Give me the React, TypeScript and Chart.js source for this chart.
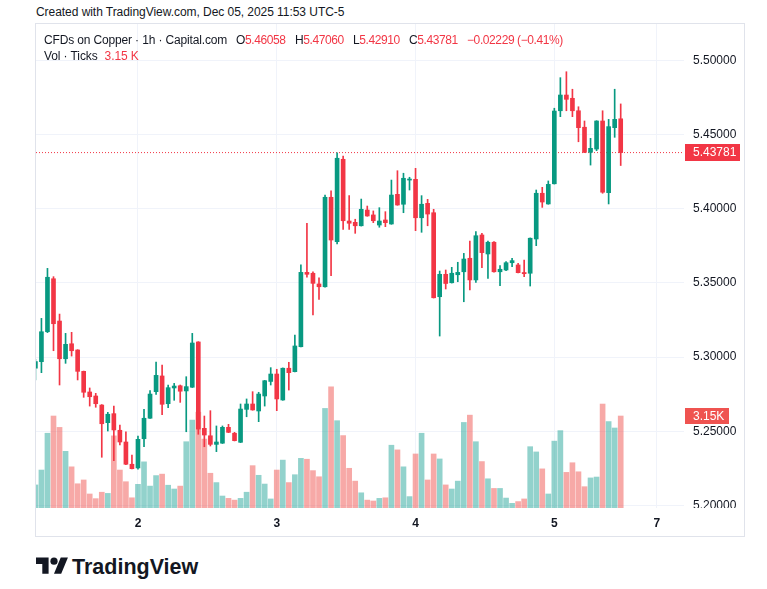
import React, { useEffect, useRef } from "react";
import { Chart, registerables } from "chart.js";

Chart.register(...registerables);

// Bar index of the first visible candle, relative to the Dec 2 00:00 bar (1h bars)
const FIRST_BAR = -17;

const OPEN = [
  5.2925, 5.2969, 5.3171, 5.3528, 5.3243, 5.2989, 5.309, 5.3048, 5.2904, 5.2765,
  5.2738, 5.2677, 5.2558, 5.2619, 5.2507, 5.2428, 5.2278, 5.2253, 5.245, 5.2588,
  5.2767, 5.2873, 5.2686, 5.2792, 5.2807, 5.2772, 5.2797, 5.3102, 5.252, 5.247,
  5.2412, 5.242, 5.2527, 5.2487, 5.2426, 5.2648, 5.2684, 5.2637, 5.2738, 5.2836,
  5.2886, 5.2711, 5.2925, 5.2902, 5.307, 5.3571, 5.3565, 5.3493, 5.3474, 5.4077,
  5.3778, 5.4333, 5.3917, 5.3908, 5.3885, 5.3991, 5.3958, 5.389, 5.3924, 5.3897,
  5.4097, 5.403, 5.4193, 5.4198, 5.3939, 5.4036, 5.3973, 5.3407, 5.3558, 5.3501,
  5.3555, 5.3575, 5.3666, 5.352, 5.3823, 5.3695, 5.3774, 5.3575, 5.3587, 5.3636,
  5.3621, 5.357, 5.3565, 5.3796, 5.4104, 5.4032, 5.4168, 5.466, 5.4766, 5.4744,
  5.466, 5.4549, 5.438, 5.4402, 5.4591, 5.4108, 5.4546, 5.46058,
];
const HIGH = [
  5.2985, 5.3261, 5.3598, 5.3542, 5.329, 5.316, 5.3167, 5.305, 5.2906, 5.2792,
  5.2756, 5.268, 5.2628, 5.267, 5.2542, 5.2497, 5.234, 5.2468, 5.2648, 5.2774,
  5.2967, 5.2947, 5.2812, 5.2823, 5.2812, 5.2868, 5.316, 5.3104, 5.2603, 5.2639,
  5.2536, 5.2536, 5.2547, 5.2493, 5.2684, 5.2718, 5.2767, 5.2763, 5.2843, 5.2929,
  5.2918, 5.2927, 5.2965, 5.3149, 5.3621, 5.3902, 5.3575, 5.3535, 5.4092, 5.4121,
  5.4377, 5.4355, 5.4088, 5.3929, 5.4065, 5.4018, 5.3985, 5.4007, 5.398, 5.4193,
  5.4256, 5.4239, 5.4212, 5.4272, 5.4088, 5.4063, 5.3996, 5.358, 5.3587, 5.3605,
  5.3639, 5.3699, 5.3782, 5.3845, 5.3834, 5.3782, 5.3778, 5.3616, 5.3643, 5.3666,
  5.3632, 5.3654, 5.3803, 5.4126, 5.4144, 5.4187, 5.4677, 5.4883, 5.4923, 5.4805,
  5.4687, 5.4591, 5.4474, 5.4593, 5.466, 5.4602, 5.4805, 5.4706,
];
const LOW = [
  5.2846, 5.2895, 5.3165, 5.3043, 5.2812, 5.2958, 5.3007, 5.2846, 5.2729, 5.267,
  5.2662, 5.2325, 5.2502, 5.2302, 5.2408, 5.2276, 5.2246, 5.2245, 5.2396, 5.2586,
  5.2749, 5.2612, 5.2659, 5.2709, 5.2695, 5.2497, 5.2795, 5.248, 5.2396, 5.2401,
  5.2363, 5.2418, 5.2491, 5.2435, 5.2424, 5.2598, 5.2642, 5.2565, 5.267, 5.2812,
  5.2639, 5.2709, 5.2778, 5.29, 5.3068, 5.3538, 5.3284, 5.3389, 5.3472, 5.3549,
  5.3762, 5.3861, 5.3861, 5.3834, 5.3883, 5.3949, 5.3906, 5.3875, 5.3879, 5.3895,
  5.4023, 5.3973, 5.4126, 5.3852, 5.3841, 5.3885, 5.3398, 5.3142, 5.3459, 5.3499,
  5.3508, 5.3373, 5.3452, 5.3504, 5.3602, 5.3531, 5.3573, 5.3481, 5.3582, 5.3609,
  5.3567, 5.3542, 5.3479, 5.3751, 5.4009, 5.403, 5.4166, 5.462, 5.466, 5.462,
  5.4451, 5.4378, 5.4294, 5.4391, 5.4104, 5.4032, 5.4481, 5.4291,
];
const CLOSE = [
  5.2969, 5.3171, 5.3538, 5.3225, 5.2989, 5.3086, 5.3043, 5.2904, 5.2763, 5.2733,
  5.2686, 5.2551, 5.2615, 5.2509, 5.2428, 5.2278, 5.2248, 5.2446, 5.2588, 5.2751,
  5.2877, 5.2682, 5.2794, 5.2805, 5.277, 5.2801, 5.3095, 5.2515, 5.2475, 5.2412,
  5.2428, 5.2527, 5.2493, 5.2437, 5.265, 5.2684, 5.2644, 5.2751, 5.2841, 5.2886,
  5.2718, 5.2925, 5.2895, 5.3075, 5.3571, 5.3558, 5.3497, 5.3474, 5.4077, 5.3789,
  5.434, 5.3919, 5.3902, 5.3885, 5.3996, 5.3951, 5.3919, 5.3917, 5.3906, 5.4092,
  5.4025, 5.4205, 5.42, 5.3939, 5.403, 5.3964, 5.34, 5.3558, 5.3496, 5.3565,
  5.3571, 5.3661, 5.352, 5.3818, 5.3704, 5.3774, 5.3575, 5.3592, 5.3636, 5.365,
  5.3569, 5.3562, 5.3801, 5.4104, 5.4045, 5.4164, 5.4658, 5.4766, 5.4737, 5.466,
  5.4546, 5.438, 5.4407, 5.4591, 5.4111, 5.4553, 5.4602, 5.43781,
];
// Volume in ticks
const VOLUME = [
  790, 1300, 2560, 3150, 2760, 1940, 1410, 830, 960, 480,
  320, 540, 500, 2470, 1300, 900, 350, 810, 1580, 750,
  1110, 1160, 780, 650, 750, 2270, 3010, 3280, 2360, 1190,
  870, 410, 330, 270, 330, 540, 1450, 1120, 820, 310,
  1300, 1640, 870, 1140, 1700, 1670, 1280, 1070, 3410, 4150,
  2990, 2480, 1360, 920, 520, 270, 240, 330, 350, 2150,
  1990, 1410, 390, 1850, 2560, 960, 1850, 1680, 790, 650,
  920, 2930, 3180, 2270, 1590, 1000, 670, 670, 340, 160,
  220, 310, 2100, 1920, 1340, 480, 2290, 2650, 1220, 1550,
  1240, 730, 1030, 1060, 3560, 2960, 2740, 3150,
];

const TIME_TICKS = [0, 23, 46, 69, 86];
const TIME_LABELS = ["2", "3", "4", "5", "7"];
const PRICE_TICKS = [5.2, 5.25, 5.3, 5.35, 5.4, 5.45, 5.5];
const LAST_PRICE = 5.43781;
const LAST_VOLUME_LABEL = "3.15K";
const LAST_VOLUME = 3150;

// visible ranges
const X_MIN = -16.9;
const X_MAX = 90.49;
const Y_MIN = 5.19832;
const Y_MAX = 5.52446;
const VOL_MAX = 16575;

const UP = "#089981";
const DOWN = "#f23645";
const VOL_UP = "rgba(38,166,154,0.5)";
const VOL_DOWN = "rgba(239,83,80,0.5)";
const TEXT = "#131722";
const GRID = "#f0f3fa";
const FONT = '"Liberation Sans", Arial, sans-serif';

const axisBoxes = {
  id: "axisBoxes",
  afterDraw(chart: any) {
    const { ctx, chartArea, scales } = chart;
    ctx.save();
    ctx.fillStyle = "#ffffff";
    ctx.fillRect(chartArea.right + 1, chartArea.bottom, chart.width - chartArea.right, chart.height - chartArea.bottom);
    ctx.font = `12px ${FONT}`;
    ctx.textBaseline = "middle";
    ctx.textAlign = "left";
    const py = scales.y.getPixelForValue(LAST_PRICE);
    ctx.fillStyle = DOWN;
    ctx.fillRect(chartArea.right + 1, Math.round(py - 8.5), 55, 17);
    ctx.fillStyle = "#ffffff";
    ctx.fillText(LAST_PRICE.toFixed(5), chartArea.right + 9, py + 0.5);
    const vy = scales.vol.getPixelForValue(LAST_VOLUME);
    ctx.fillStyle = "#ef5350";
    ctx.fillRect(chartArea.right + 1, Math.round(vy - 8), 44, 16);
    ctx.fillStyle = "#ffffff";
    ctx.fillText(LAST_VOLUME_LABEL, chartArea.right + 9, vy + 0.5);
    ctx.restore();
  },
};

function CandleChart() {
  const ref = useRef<HTMLCanvasElement | null>(null);
  useEffect(() => {
    if (!ref.current) return;
    const xs = OPEN.map((_, i) => FIRST_BAR + i);
    const isUp = OPEN.map((o, i) => CLOSE[i] >= o);
    const chart = new Chart(ref.current, {
      type: "bar",
      data: {
        datasets: [
          {
            type: "bar",
            label: "body",
            data: xs.map((x, i) => ({ x, y: [OPEN[i], CLOSE[i]] })) as any,
            backgroundColor: isUp.map((u) => (u ? UP : DOWN)),
            borderWidth: 0,
            barThickness: 4,
            minBarLength: 1,
            grouped: false,
            yAxisID: "y",
            order: 0,
          } as any,
          {
            type: "bar",
            label: "wick",
            data: xs.map((x, i) => ({ x, y: [LOW[i], HIGH[i]] })) as any,
            backgroundColor: isUp.map((u) => (u ? UP : DOWN)),
            borderWidth: 0,
            barThickness: 1,
            grouped: false,
            yAxisID: "y",
            order: 1,
          } as any,
          {
            type: "line",
            label: "last",
            data: [
              { x: X_MIN, y: LAST_PRICE },
              { x: X_MAX, y: LAST_PRICE },
            ],
            borderColor: DOWN,
            borderWidth: 1,
            borderDash: [1, 2],
            pointRadius: 0,
            yAxisID: "y",
            order: 2,
          } as any,
          {
            type: "bar",
            label: "volume",
            data: xs.map((x, i) => ({ x, y: VOLUME[i] })) as any,
            backgroundColor: isUp.map((u) => (u ? VOL_UP : VOL_DOWN)),
            borderWidth: 0,
            barThickness: 5,
            grouped: false,
            yAxisID: "vol",
            order: 3,
          } as any,
        ],
      },
      options: {
        animation: false,
        responsive: false,
        maintainAspectRatio: false,
        events: [],
        layout: { padding: 0 },
        plugins: { legend: { display: false }, tooltip: { enabled: false } },
        scales: {
          x: {
            type: "linear",
            min: X_MIN,
            max: X_MAX,
            offset: false,
            grid: { color: GRID, drawTicks: false, offset: false, lineWidth: 1 },
            border: { display: false },
            afterBuildTicks: (s: any) => {
              s.ticks = TIME_TICKS.map((v) => ({ value: v }));
            },
            afterFit: (s: any) => {
              s.height = 28;
              s.paddingLeft = 0;
              s.paddingRight = 0;
            },
            ticks: {
              autoSkip: false,
              maxRotation: 0,
              padding: 8,
              color: TEXT,
              font: { family: FONT, size: 12, weight: "bold" },
              callback: (v: any) => {
                const k = TIME_TICKS.indexOf(Number(v));
                return k >= 0 ? TIME_LABELS[k] : "";
              },
            },
          } as any,
          y: {
            type: "linear",
            position: "right",
            min: Y_MIN,
            max: Y_MAX,
            beginAtZero: false,
            grid: { color: GRID, drawTicks: false, lineWidth: 1 },
            border: { display: false },
            afterBuildTicks: (s: any) => {
              s.ticks = PRICE_TICKS.map((v) => ({ value: v }));
            },
            afterFit: (s: any) => {
              s.width = 60;
              s.paddingTop = 0;
              s.paddingBottom = 0;
            },
            ticks: {
              padding: 9,
              color: TEXT,
              font: { family: FONT, size: 12 },
              callback: (v: any) => Number(v).toFixed(5),
            },
          } as any,
          vol: {
            type: "linear",
            display: false,
            min: 0,
            max: VOL_MAX,
            grid: { display: false },
          } as any,
        },
      },
      plugins: [axisBoxes],
    } as any);
    return () => chart.destroy();
  }, []);
  return <canvas ref={ref} width={708} height={512} style={{ width: 708, height: 512, display: "block" }} />;
}

export default function App() {
  const red = "#f23645";
  const line: React.CSSProperties = {
    position: "absolute",
    fontSize: 12,
    lineHeight: "16px",
    whiteSpace: "nowrap",
  };
  const val: React.CSSProperties = { ...line, top: 32, letterSpacing: -0.4 };
  return (
    <div
      style={{
        position: "absolute",
        left: 0,
        top: 0,
        width: 767,
        height: 589,
        background: "#ffffff",
        fontFamily: FONT,
        color: TEXT,
        overflow: "hidden",
      }}
    >
      <div style={{ ...line, left: 36, top: 4, letterSpacing: -0.05 }}>
        Created with TradingView.com, Dec 05, 2025 11:53 UTC-5
      </div>
      <div style={{ position: "absolute", left: 36, top: 24 }}>
        <CandleChart />
      </div>
      <div
        style={{
          position: "absolute",
          left: 35,
          top: 23,
          width: 710,
          height: 514,
          border: "1px solid #e0e3eb",
          boxSizing: "border-box",
          pointerEvents: "none",
        }}
      />
      <div style={{ ...line, left: 44, top: 32, letterSpacing: -0.15 }}>CFDs on Copper · 1h · Capital.com</div>
      <div style={{ ...val, left: 236 }}>
        O<span style={{ color: red }}>5.46058</span>
      </div>
      <div style={{ ...val, left: 295 }}>
        H<span style={{ color: red }}>5.47060</span>
      </div>
      <div style={{ ...val, left: 353 }}>
        L<span style={{ color: red }}>5.42910</span>
      </div>
      <div style={{ ...val, left: 409 }}>
        C<span style={{ color: red }}>5.43781</span>
      </div>
      <div style={{ ...val, left: 467, color: red }}>−0.02229 (−0.41%)</div>
      <div style={{ ...line, left: 44, top: 48, letterSpacing: -0.1 }}>
        <span>Vol · Ticks</span>
        <span style={{ marginLeft: 7, color: red }}>3.15 K</span>
      </div>
      <svg
        style={{ position: "absolute", left: 36, top: 554 }}
        width={32.4}
        height={25.2}
        viewBox="0 0 36 28"
      >
        <path d="M14 22H7V11H0V4h14v18zM28 22h-8l7.5-18h8L28 22z" fill="#131722" />
        <circle cx="20" cy="8" r="4" fill="#131722" />
      </svg>
      <div
        style={{
          position: "absolute",
          left: 72,
          top: 554,
          fontSize: 21.5,
          fontWeight: 700,
          lineHeight: "26px",
          whiteSpace: "nowrap",
          color: "#131722",
        }}
      >
        TradingView
      </div>
    </div>
  );
}
